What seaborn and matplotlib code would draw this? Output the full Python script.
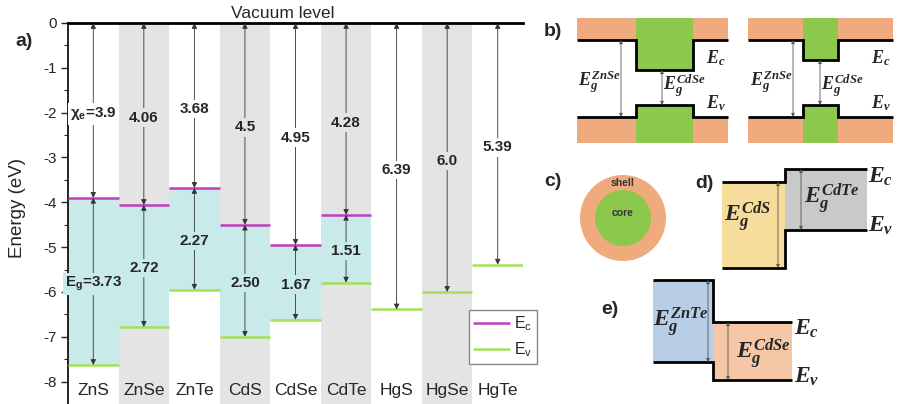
import matplotlib
matplotlib.use("Agg")
import matplotlib.pyplot as plt
from matplotlib.lines import Line2D
from matplotlib.patches import Rectangle, Circle
from matplotlib.ticker import MultipleLocator
import numpy as np
import pandas as pd
import seaborn as sns

# band edges (eV, relative to vacuum level)
materials = ["ZnS", "ZnSe", "ZnTe", "CdS", "CdSe", "CdTe", "HgS", "HgSe", "HgTe"]
ec = [-3.9, -4.06, -3.68, -4.5, -4.95, -4.28, np.nan, np.nan, np.nan]
ev = [-7.63, -6.78, -5.95, -7.0, -6.62, -5.79, -6.39, -6.0, -5.39]
affinity_labels = ["χ$_\\mathregular{e}$=3.9", "4.06", "3.68", "4.5", "4.95",
                   "4.28", "6.39", "6.0", "5.39"]
gap_labels = ["E$_\\mathregular{g}$=3.73", "2.72", "2.27", "2.50", "1.67", "1.51"]

sns.set_theme(style="ticks")
plt.rcParams["font.family"] = ["Liberation Sans", "DejaVu Sans"]
plt.rcParams["axes.unicode_minus"] = False
plt.rcParams["mathtext.fontset"] = "custom"
plt.rcParams["mathtext.it"] = "Liberation Serif:italic:bold"
plt.rcParams["mathtext.rm"] = "Liberation Serif:bold"
plt.rcParams["mathtext.bf"] = "Liberation Serif:bold"

CYAN = "#c8ebea"
GRAY = "#e4e4e4"
MAGENTA = "#c03cc0"
LIME = "#a4e05a"
ORANGE = "#efab7e"
GREEN = "#8cc84b"

fig = plt.figure(figsize=(8.97, 4.04), dpi=100)

# overlay axes in pixel units for the schematic panels
ov = fig.add_axes([0, 0, 1, 1])
ov.set_xlim(0, 897)
ov.set_ylim(404, 0)
ov.axis("off")
ov.patch.set_alpha(0)

# ---------------- panel a ----------------
ax = fig.add_axes([68 / 897, 0, 455 / 897, 381 / 404])
df = pd.DataFrame({"material": materials, "ec": ec, "ev": ev})
df["gap"] = df["ec"] - df["ev"]
gapped = df.dropna()

pos = np.arange(len(materials))
for i in pos[1::2]:
    ax.axvspan(i - 0.5, i + 0.5, color=GRAY, lw=0, zorder=0)

sns.barplot(data=gapped, x="material", y="gap", order=materials,
            bottom=gapped["ev"].values, width=1, color=CYAN, saturation=1,
            errorbar=None, ax=ax, zorder=1, linewidth=0)

ax.hlines(df["ec"], pos - 0.5, pos + 0.5, color=MAGENTA, lw=1.8, zorder=3)
ax.hlines(df["ev"], pos - 0.5, pos + 0.5, color=LIME, lw=1.8, zorder=3)

arrow_kw = dict(arrowstyle="<|-|>", color="#333333", lw=0.6,
                mutation_scale=8, shrinkA=0, shrinkB=0)
for i, row in df.iterrows():
    top = row["ec"] if not np.isnan(row["ec"]) else row["ev"]
    bg = GRAY if i % 2 else "white"
    ax.annotate("", xy=(i, 0), xytext=(i, top), arrowprops=arrow_kw, zorder=4)
    ax.text(i, top / 2 - 0.08, affinity_labels[i], ha="center", va="center",
            fontsize=11, fontweight="bold", zorder=5,
            bbox=dict(facecolor=bg, edgecolor="none", pad=1.5))
    if not np.isnan(row["ec"]):
        ax.annotate("", xy=(i, row["ec"]), xytext=(i, row["ev"]),
                    arrowprops=arrow_kw, zorder=4)
        ax.text(i, (row["ec"] + row["ev"]) / 2 - 0.05, gap_labels[i],
                ha="center", va="center", fontsize=11, fontweight="bold",
                zorder=5, bbox=dict(facecolor=CYAN, edgecolor="none", pad=1.5))
    ax.text(i, -8.2, row["material"], ha="center", va="center", fontsize=12.5)

ax.set_xlim(-0.5, len(materials) - 0.5)
ax.set_ylim(-8.5, 0)
ax.set_yticks(range(-8, 1))
ax.yaxis.set_minor_locator(MultipleLocator(0.5))
ax.tick_params(axis="y", direction="out", length=5, width=1, labelsize=11, pad=3)
ax.tick_params(axis="y", which="minor", direction="out", length=3, width=0.8)
ax.tick_params(axis="x", bottom=False, labelbottom=False)
ax.set_xlabel("")
ax.set_ylabel("Energy (eV)", fontsize=13.5)
ax.yaxis.set_label_coords(-0.093, 0.515)
for s in ["right", "bottom"]:
    ax.spines[s].set_visible(False)
ax.spines["left"].set_linewidth(1.2)
ax.spines["top"].set_linewidth(2)
ax.spines["top"].set_color("black")
ax.spines["left"].set_color("black")
ax.text(0.473, 1.012, "Vacuum level", transform=ax.transAxes, ha="center",
        va="baseline", fontsize=12.5)
handles = [Line2D([], [], color=MAGENTA, lw=1.8), Line2D([], [], color=LIME, lw=1.8)]
ax.legend(handles, ["E$_\\mathregular{c}$", "E$_\\mathregular{v}$"],
          loc="lower right", bbox_to_anchor=(1.03, 0.105), borderaxespad=0,
          fontsize=11.5, fancybox=False, edgecolor="#888888", framealpha=1,
          handlelength=2.2, handletextpad=0.3, borderpad=0.3,
          labelspacing=0.5)
fig.text(24 / 897, 1 - 41 / 404, "a)", fontsize=14, fontweight="bold",
         ha="center", va="center")


# ---------------- schematic helpers ----------------
def step_line(xs, ys):
    ov.plot(xs, ys, color="black", lw=2, solid_joinstyle="miter",
            solid_capstyle="butt")


def gap_arrow(x, y0, y1):
    ov.annotate("", xy=(x, y0), xytext=(x, y1),
                arrowprops=dict(arrowstyle="<|-|>", color="#555555", lw=0.6,
                                mutation_scale=5, shrinkA=0, shrinkB=0))


def rect(x0, y0, x1, y1, color):
    ov.add_patch(Rectangle((x0, y0), x1 - x0, y1 - y0, color=color, lw=0))


def label(x, y, s, size, ha="center"):
    ov.text(x, y, s, fontsize=size, ha=ha, va="center")


def panel_tag(x, y, s):
    ov.text(x, y, s, fontsize=14, fontweight="bold", ha="center", va="center")


# ---------------- panel b ----------------
panel_tag(553, 32, "b)")
# (left, right, green left, green right, inner Ec, inner Ev, arrow x's)
for x0, x1, gx0, gx1, ci, vi, a1, a2 in [(577, 728, 636, 693, 70, 105, 621, 662),
                                          (748, 893, 803, 838, 60, 105, 793, 820)]:
    rect(x0, 18, x1, 40, ORANGE)
    rect(x0, 117, x1, 143, ORANGE)
    rect(gx0, 18, gx1, ci, GREEN)
    rect(gx0, vi, gx1, 143, GREEN)
    step_line([x0, gx0, gx0, gx1, gx1, x1], [40, 40, ci, ci, 40, 40])
    step_line([x0, gx0, gx0, gx1, gx1, x1], [117, 117, vi, vi, 117, 117])
    gap_arrow(a1, 40, 117)
    gap_arrow(a2, ci, vi)
    label(a1 - 1, 82, r"$E_g^{ZnSe}$", 13, ha="right")
    label(a2 + 1, 86, r"$E_g^{CdSe}$", 13, ha="left")
    label(x1 - 22, 58, r"$E_c$", 13, ha="left")
    label(x1 - 22, 103, r"$E_v$", 13, ha="left")

# ---------------- panel c ----------------
panel_tag(553, 182, "c)")
ov.add_patch(Circle((623, 218), 43, color=ORANGE, lw=0))
ov.add_patch(Circle((623, 218), 28, color=GREEN, lw=0))
ov.text(623, 183, "shell", fontsize=7.5, fontweight="bold", ha="center",
        va="center", color="#333333")
ov.text(623, 213, "core", fontsize=7.5, fontweight="bold", ha="center",
        va="center", color="#333333")

# ---------------- panel d ----------------
panel_tag(704, 183, "d)")
rect(722, 182, 785, 268, "#f7dd9c")
rect(785, 169, 867, 230, "#c9c9c9")
step_line([722, 785, 785, 867], [182, 182, 169, 169])
step_line([722, 785, 785, 867], [268, 268, 230, 230])
gap_arrow(778, 182, 268)
gap_arrow(801, 169, 230)
label(748, 217, r"$E_g^{CdS}$", 17)
label(832, 199, r"$E_g^{CdTe}$", 17)
label(868, 177, r"$E_c$", 17, ha="left")
label(868, 226, r"$E_v$", 17, ha="left")

# ---------------- panel e ----------------
panel_tag(610, 310, "e)")
rect(653, 280, 713, 362, "#b7cee6")
rect(713, 322, 792, 380, "#f5c7a6")
step_line([653, 713, 713, 792], [280, 280, 322, 322])
step_line([653, 713, 713, 792], [362, 362, 380, 380])
gap_arrow(708, 280, 362)
gap_arrow(728, 322, 380)
label(681, 322, r"$E_g^{ZnTe}$", 17)
label(763, 354, r"$E_g^{CdSe}$", 17)
label(794, 329, r"$E_c$", 17, ha="left")
label(794, 377, r"$E_v$", 17, ha="left")

fig.savefig("out.png", dpi=100)
